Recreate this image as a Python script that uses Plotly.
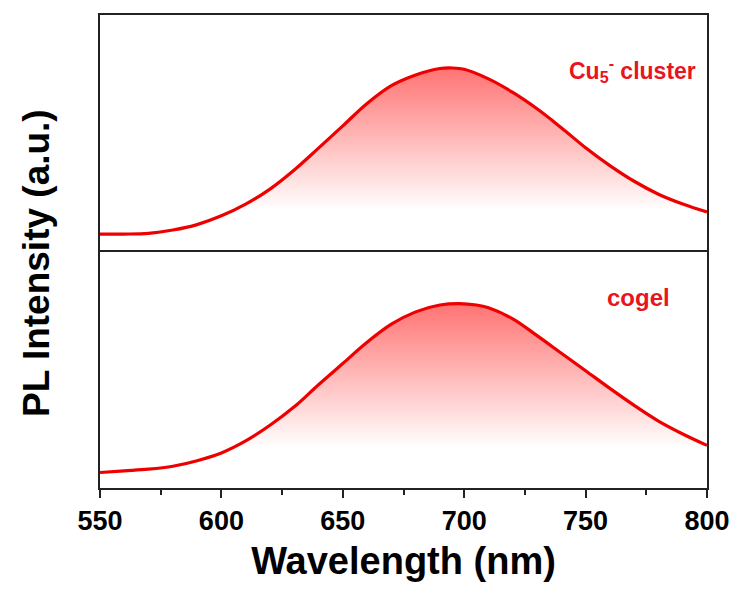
import plotly.graph_objects as go

# Cu5- cluster (top panel)
wl_top = [550, 560, 570, 580, 590, 600, 610, 620, 630, 640, 650, 660, 670, 680, 690,
          695, 700, 710, 720, 730, 740, 750, 760, 770, 780, 790, 800]
pl_top = [0.088, 0.088, 0.092, 0.110, 0.140, 0.188, 0.252, 0.335, 0.440, 0.560, 0.682,
          0.805, 0.903, 0.962, 0.997, 1.000, 0.993, 0.940, 0.866, 0.776, 0.672, 0.562,
          0.464, 0.378, 0.307, 0.253, 0.209]

# cogel (bottom panel)
wl_bot = [550, 560, 570, 580, 590, 600, 610, 620, 630, 640, 650, 660, 670, 680, 690,
          698, 705, 710, 720, 730, 740, 750, 760, 770, 780, 790, 800]
pl_bot = [0.084, 0.093, 0.102, 0.118, 0.148, 0.190, 0.255, 0.340, 0.440, 0.560, 0.675,
          0.790, 0.888, 0.955, 0.992, 1.000, 0.992, 0.977, 0.917, 0.826, 0.731, 0.636,
          0.540, 0.448, 0.363, 0.293, 0.231]

x_ticks = [550, 600, 650, 700, 750, 800]
labels = ["Cu<sub>5</sub><sup>-</sup> cluster", "cogel"]

RED = "#ee0000"
TXT_RED = "#e8141e"
grad = dict(type="vertical", start=0.22, stop=1.0,
            colorscale=[[0, "rgba(255,255,255,1)"], [1, "rgba(255,115,115,1)"]])

fig = go.Figure()
fig.add_trace(go.Scatter(x=wl_top, y=pl_top, mode="lines",
                         line=dict(color=RED, width=3.2, shape="spline", smoothing=1.0),
                         fill="tozeroy", fillgradient=grad, xaxis="x2", yaxis="y2", showlegend=False))
fig.add_trace(go.Scatter(x=wl_bot, y=pl_bot, mode="lines",
                         line=dict(color=RED, width=3.2, shape="spline", smoothing=1.0),
                         fill="tozeroy", fillgradient=grad, xaxis="x", yaxis="y", showlegend=False))

axis_common = dict(showline=True, linecolor="#222", linewidth=1.6, mirror=True,
                   showgrid=False, zeroline=False, automargin=False)

fig.update_layout(
    width=734, height=590,
    margin=dict(l=100, r=27, t=15, b=102, autoexpand=False),
    plot_bgcolor="white", paper_bgcolor="white",
    font=dict(family="Liberation Sans, Arial, sans-serif", color="black"),
    xaxis=dict(**axis_common, range=[550, 800], tickvals=x_ticks, ticks="outside",
               ticklen=8, tickwidth=1.6, tickcolor="#222",
               minor=dict(dtick=25, tick0=550, ticks="outside", ticklen=5, tickwidth=1.6,
                          tickcolor="#222"),
               tickfont=dict(size=27, weight="bold"),
               title=dict(text="<b>Wavelength (nm)</b>", font=dict(size=38), standoff=12)),
    yaxis=dict(**axis_common, domain=[0, 0.503], range=[0, 1.29], showticklabels=False, ticks=""),
    xaxis2=dict(**axis_common, anchor="y2", matches="x", range=[550, 800],
                showticklabels=False, ticks=""),
    yaxis2=dict(**axis_common, domain=[0.503, 1], range=[0, 1.291], showticklabels=False, ticks=""),
    annotations=[
        dict(text="<b>%s</b>" % labels[0], x=1, xshift=-9, y=(488 - 70) / 473,
             xref="paper", yref="paper", xanchor="right", yanchor="middle",
             showarrow=False, font=dict(size=23, color=TXT_RED)),
        dict(text="<b>%s</b>" % labels[1], x=(638 - 100) / 607, y=(488 - 297) / 473,
             xref="paper", yref="paper", xanchor="center", yanchor="middle",
             showarrow=False, font=dict(size=24, color=TXT_RED)),
        dict(text="<b>PL Intensity (a.u.)</b>", x=0, xshift=-64, y=(488 - 263) / 473,
             xref="paper", yref="paper", xanchor="center", yanchor="middle", textangle=-90,
             showarrow=False, font=dict(size=37)),
    ],
)

fig.write_html("out.html")
